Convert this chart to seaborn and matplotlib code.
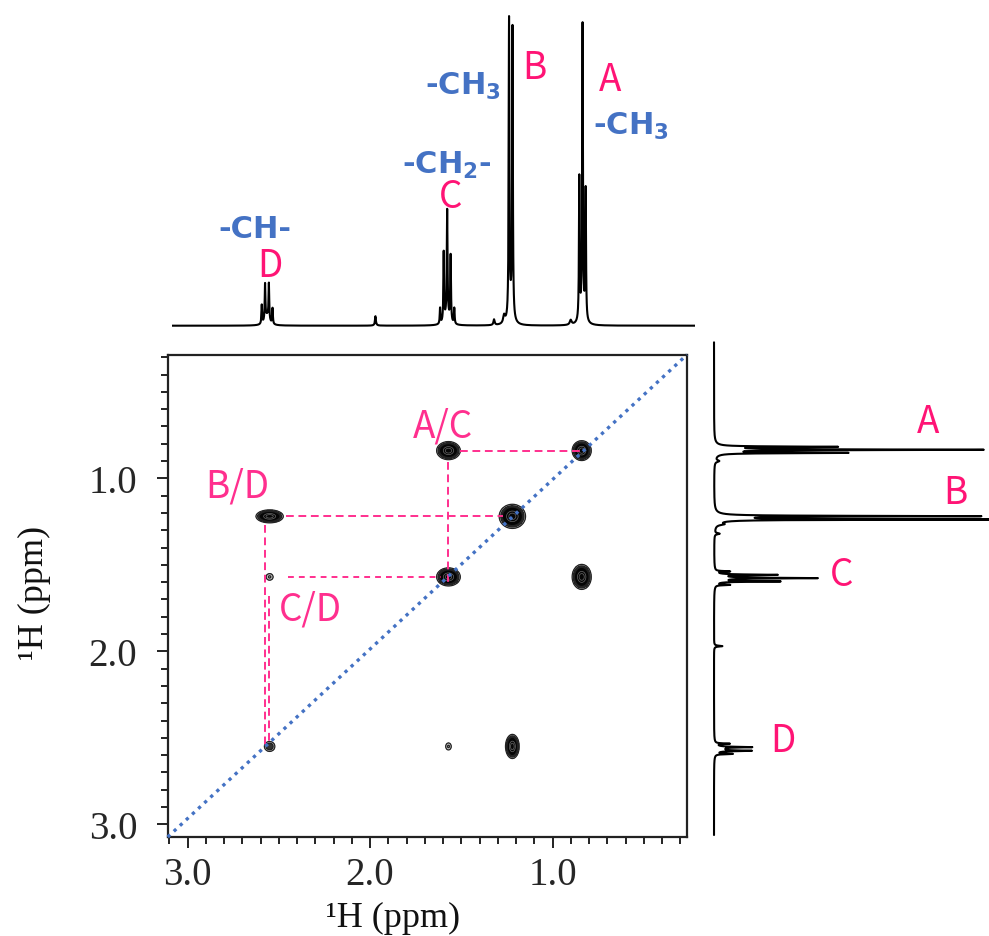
import numpy as np
import pandas as pd
import matplotlib
matplotlib.use("Agg")
import matplotlib.pyplot as plt
import seaborn as sns
from matplotlib.ticker import MultipleLocator, FixedLocator, FormatStrFormatter

# ---------------- data ----------------
peak_names = ["A", "B", "C", "D"]
shift_ppm = [0.84, 1.22, 1.57, 2.55]
group_labels = ["-CH$_3$", "-CH$_3$", "-CH$_2$-", "-CH-"]

# 1D multiplet lines (ppm, relative height)
line_ppm = [0.853, 0.835, 0.818, 1.238, 1.219,
            1.616, 1.596, 1.577, 1.558, 1.538,
            2.593, 2.575, 2.554, 2.534, 1.970]
line_height = [0.45, 0.90, 0.41, 0.94, 0.91,
               0.05, 0.22, 0.33, 0.21, 0.05,
               0.06, 0.115, 0.115, 0.05, 0.022]
line_hwhm = [0.0022] * 15
# broad feet / small baseline bumps
foot_ppm = [0.835, 1.228, 1.577, 2.564, 1.320, 0.900, 1.265, 1.970]
foot_height = [0.05, 0.05, 0.035, 0.03, 0.018, 0.015, 0.025, 0.008]
foot_hwhm = [0.012, 0.012, 0.014, 0.014, 0.004, 0.006, 0.006, 0.006]

# 2D COSY cross peaks: (x group, y group, amplitude, sigma_x, sigma_y)
cross_x = ["A", "B", "C", "D", "C", "A", "D", "B", "D", "C"]
cross_y = ["A", "B", "C", "D", "A", "C", "B", "D", "C", "D"]
cross_amp = [1.0, 1.0, 1.0, 0.16, 1.0, 1.0, 1.0, 1.0, 0.1, 0.1]
cross_sx = [0.021, 0.029, 0.026, 0.018, 0.026, 0.021, 0.030, 0.015, 0.015, 0.012]
cross_sy = [0.023, 0.028, 0.021, 0.018, 0.021, 0.029, 0.015, 0.028, 0.015, 0.016]

cross_labels = ["A/C", "B/D", "C/D"]

major_ticks = [1.0, 2.0, 3.0]

# ---------------- style ----------------
sns.set_theme(style="white")
plt.rcParams["font.family"] = ["Liberation Serif", "DejaVu Sans"]
plt.rcParams["mathtext.fontset"] = "dejavusans"
plt.rcParams["mathtext.default"] = "bf"

PINK = "#FF2F8E"
PINK2 = "#FF1475"
BLUE = "#4472C4"
LABEL_FONT = ["Noto Sans CJK JP", "DejaVu Sans"]

fig = plt.figure(figsize=(9.89, 9.37), dpi=100)
W, H = 989.0, 937.0

def box(x0, x1, y0, y1):
    return [x0 / W, (H - y1) / H, (x1 - x0) / W, (y1 - y0) / H]

ax = fig.add_axes(box(167.7, 687.0, 355.7, 838.0))
ax_top = fig.add_axes(box(172.0, 695.0, 0.0, 335.0))
ax_right = fig.add_axes(box(710.0, 989.0, 340.0, 840.0))

shift = dict(zip(peak_names, shift_ppm))

# ---------------- 1D spectrum ----------------
def spectrum(ppm):
    y = np.zeros_like(ppm)
    for p, h, w in zip(line_ppm + foot_ppm, line_height + foot_height, line_hwhm + foot_hwhm):
        y += h * w ** 2 / ((ppm - p) ** 2 + w ** 2)
    return y

ppm_top = np.linspace(0.219, 3.085, 30000)
df_top = pd.DataFrame({"ppm": ppm_top, "I": spectrum(ppm_top)})
sns.lineplot(data=df_top, x="ppm", y="I", ax=ax_top, color="black", lw=1.5,
             estimator=None, sort=False)
ax_top.set_xlim(3.085, 0.219)
ax_top.set_ylim(-(335 - 326.7) / 315, 326.7 / 315)
ax_top.axis("off")

ppm_r = np.linspace(0.214, 3.062, 30000)
df_r = pd.DataFrame({"ppm": ppm_r, "I": spectrum(ppm_r)})
sns.lineplot(data=df_r, x="I", y="ppm", ax=ax_right, color="black", lw=1.5,
             estimator=None, sort=False, orient="y")
ax_right.set_xlim(-4 / 280, 275 / 280)
ax_right.set_ylim(1 + (840 - 479.3) / 173, 1 + (340 - 479.3) / 173)
ax_right.axis("off")

# top spectrum labels
top_letter_pos = {"A": (0.686, 0.783), "B": (1.098, 0.82), "C": (1.558, 0.410), "D": (2.55, 0.19)}
top_group_pos = {"A": (0.778, 0.609), "B": (1.699, 0.735), "C": (1.825, 0.486), "D": (2.833, 0.282)}
for name, grp in zip(peak_names, group_labels):
    x, y = top_letter_pos[name]
    ax_top.text(x, y, name, color=PINK2, fontsize=26.5, family=LABEL_FONT,
                ha="center", va="center")
    x, y = top_group_pos[name]
    ax_top.text(x, y, grp, color=BLUE, fontsize=22, family="DejaVu Sans",
                fontweight="bold", ha="left", va="baseline")

right_letter_pos = {"A": (0.765, 0.672), "B": (0.864, 1.081), "C": (0.456, 1.554), "D": (0.2475, 2.517)}
for name in peak_names:
    x, y = right_letter_pos[name]
    ax_right.text(x, y, name, color=PINK2, fontsize=26.5, family=LABEL_FONT,
                  ha="center", va="center")

# ---------------- 2D COSY ----------------
gx = np.linspace(0.2, 3.15, 800)
gy = np.linspace(0.2, 3.15, 800)
X, Y = np.meshgrid(gx, gy)
Z = np.zeros_like(X)
for cx, cy, a, sx, sy in zip(cross_x, cross_y, cross_amp, cross_sx, cross_sy):
    Z += a * np.exp(-((X - shift[cx]) ** 2 / (2 * sx ** 2) + (Y - shift[cy]) ** 2 / (2 * sy ** 2)))
ax.contourf(X, Y, Z, levels=[0.045, 0.10, 0.18, 5.0],
            colors=["#c8c8c8", "#333333", "#050505"], zorder=1)
ax.contour(X, Y, Z, levels=[0.045, 0.09, 0.16], colors=["#222222"],
           linewidths=0.9, zorder=1.5)
ax.contour(X, Y, Z, levels=[0.55, 0.8], colors=["#6a6a6a"],
           linewidths=0.5, zorder=1.6)

xlim = (2 + (370 - 167.7) / 182.5, 2 - (687 - 370) / 182.5)
ylim = (1 + (838 - 479.3) / 173, 1 + (355.7 - 479.3) / 173)
ax.set_xlim(*xlim)
ax.set_ylim(*ylim)

# diagonal
ax.plot([0, 1], [0, 1], transform=ax.transAxes, color=BLUE, lw=2.4,
        linestyle=(0, (1, 1.5)), zorder=4, clip_on=False)

# dashed guide lines between correlated peaks
A, B, C, D = (shift[k] for k in peak_names)
dash = dict(color=PINK, lw=1.4, linestyle=(0, (4, 2.4)), zorder=3)
ax.plot([C - 0.065, A], [A, A], **dash)
ax.plot([C, C], [A + 0.065, C + 0.03], **dash)
ax.plot([D - 0.09, B + 0.05], [B, B], **dash)
ax.plot([D - 0.10, C + 0.04], [C, C], color=PINK, lw=1.4, linestyle=(0, (3, 2.6)), zorder=3)
ax.plot([D + 0.028, D + 0.028], [B + 0.05, D], **dash)
ax.plot([D + 0.005, D + 0.005], [C + 0.11, D - 0.03], **dash)

label_pos = [(1.60, 0.698), (2.726, 1.043), (2.325, 1.755)]
for txt, (x, y) in zip(cross_labels, label_pos):
    ax.text(x, y, txt, color=PINK, fontsize=26.5, family=LABEL_FONT,
            ha="center", va="center", zorder=5)

# axes styling
for s in ax.spines.values():
    s.set_visible(True)
    s.set_linewidth(1.6)
    s.set_color("#222222")
ax.xaxis.set_major_locator(FixedLocator(major_ticks))
ax.yaxis.set_major_locator(FixedLocator(major_ticks))
ax.xaxis.set_minor_locator(MultipleLocator(0.1))
ax.yaxis.set_minor_locator(MultipleLocator(0.1))
ax.xaxis.set_major_formatter(FormatStrFormatter("%.1f"))
ax.yaxis.set_major_formatter(FormatStrFormatter("%.1f"))
ax.tick_params(which="both", direction="out", bottom=True, left=True, top=False, right=False,
               color="#222222", width=1.4)
ax.tick_params(which="major", length=8, labelsize=28, pad=6)
ax.tick_params(axis="y", which="major", pad=14)
ax.tick_params(which="minor", length=5)
for lab in ax.get_xticklabels() + ax.get_yticklabels():
    lab.set_family("Liberation Serif")

ax.set_xlabel("\u00b9H (ppm)", fontsize=26, family="Liberation Serif", color="#111111")
ax.set_ylabel("\u00b9H (ppm)", fontsize=26, family="Liberation Serif", color="#111111")
ax.xaxis.label.set_va("center")
ax.yaxis.label.set_va("center")
ax.xaxis.set_label_coords((393 - 167.7) / 519.3, (838 - 918) / 482.3)
ax.yaxis.set_label_coords((34 - 167.7) / 519.3, (838 - 593) / 482.3)

fig.savefig("out.png", dpi=100, facecolor="white")
